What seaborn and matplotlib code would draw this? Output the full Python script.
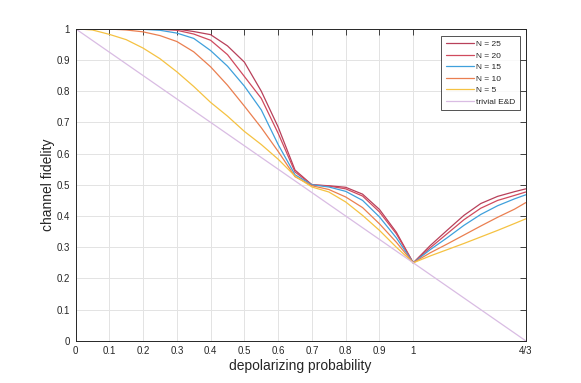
import numpy as np
import pandas as pd
import seaborn as sns
import matplotlib
matplotlib.use('Agg')
import matplotlib.pyplot as plt

# depolarizing probability grid (0:0.05:1.3 plus 4/3)
p_vals = [0, 0.05, 0.1, 0.15, 0.2, 0.25, 0.3, 0.35, 0.4, 0.45, 0.5, 0.55, 0.6, 0.65,
          0.7, 0.75, 0.8, 0.85, 0.9, 0.95, 1.0, 1.05, 1.1, 1.15, 1.2, 1.25, 1.3, 4 / 3]

fid_n25 = [1, 1, 1, 1, 1, 0.9995, 0.999, 0.991, 0.981, 0.945, 0.893, 0.80, 0.685, 0.547,
           0.5, 0.497, 0.492, 0.47, 0.421, 0.348, 0.25, 0.305, 0.354, 0.402, 0.44, 0.463, 0.478, 0.487]
fid_n20 = [1, 1, 1, 1, 0.999, 0.998, 0.995, 0.983, 0.963, 0.917, 0.847, 0.777, 0.665, 0.541,
           0.5, 0.496, 0.487, 0.464, 0.413, 0.343, 0.25, 0.298, 0.343, 0.388, 0.425, 0.45, 0.466, 0.477]
fid_n15 = [1, 1, 1, 0.999, 0.998, 0.995, 0.986, 0.969, 0.93, 0.88, 0.816, 0.74, 0.629, 0.532,
           0.5, 0.493, 0.479, 0.45, 0.397, 0.33, 0.25, 0.292, 0.33, 0.37, 0.405, 0.433, 0.455, 0.468]
fid_n10 = [1, 1, 0.999, 0.996, 0.99, 0.978, 0.959, 0.926, 0.878, 0.819, 0.752, 0.683, 0.607, 0.526,
           0.497, 0.485, 0.461, 0.427, 0.375, 0.316, 0.25, 0.282, 0.31, 0.339, 0.368, 0.396, 0.422, 0.443]
fid_n5 = [1, 0.996, 0.982, 0.965, 0.938, 0.904, 0.862, 0.815, 0.764, 0.72, 0.671, 0.629, 0.582, 0.528,
          0.493, 0.477, 0.445, 0.402, 0.354, 0.30, 0.25, 0.272, 0.292, 0.312, 0.333, 0.354, 0.376, 0.391]

trivial_p = [0, 1, 4 / 3]
trivial_fid = [1, 0.25, 0]

series_names = ['N = 25', 'N = 20', 'N = 15', 'N = 10', 'N = 5']
series_vals = [fid_n25, fid_n20, fid_n15, fid_n10, fid_n5]
colors = ['#b8405a', '#d04a5e', '#3fa0dc', '#ea7f50', '#f5c242']

x_ticks = [0, 0.1, 0.2, 0.3, 0.4, 0.5, 0.6, 0.7, 0.8, 0.9, 1, 4 / 3]
x_ticklabels = ['0', '0.1', '0.2', '0.3', '0.4', '0.5', '0.6', '0.7', '0.8', '0.9', '1', '4/3']
y_ticks = [0, 0.1, 0.2, 0.3, 0.4, 0.5, 0.6, 0.7, 0.8, 0.9, 1]
y_ticklabels = ['0', '0.1', '0.2', '0.3', '0.4', '0.5', '0.6', '0.7', '0.8', '0.9', '1']

sns.set_style('white')
plt.rcParams['font.family'] = ['Liberation Sans', 'DejaVu Sans']

fig = plt.figure(figsize=(5.81, 3.83), dpi=100)
ax = fig.add_axes([0.13, 0.11, 0.775, 0.815])

for name, vals, col in zip(series_names, series_vals, colors):
    df = pd.DataFrame({'p': p_vals, 'F': vals})
    sns.lineplot(data=df, x='p', y='F', color=col, linewidth=0.9, label=name, ax=ax,
                 estimator=None, sort=False)
df_t = pd.DataFrame({'p': trivial_p, 'F': trivial_fid})
sns.lineplot(data=df_t, x='p', y='F', color='#d9bce3', linewidth=0.9, label='trivial E&D', ax=ax,
             estimator=None, sort=False)

ax.set_xlim(0, 4 / 3)
ax.set_ylim(0, 1)
ax.set_xticks(x_ticks)
ax.set_xticklabels(x_ticklabels)
ax.set_yticks(y_ticks)
ax.set_yticklabels(y_ticklabels)
ax.grid(True, color='#e3e3e3', linewidth=0.7)
ax.set_axisbelow(True)
for s in ax.spines.values():
    s.set_color('#262626')
    s.set_linewidth(0.7)
ax.tick_params(direction='in', length=4, width=0.6, colors='#262626', labelsize=7,
               top=True, right=True, pad=4)
ax.set_xlabel('depolarizing probability', fontsize=10, color='#262626', labelpad=2)
ax.set_ylabel('channel fidelity', fontsize=10, color='#262626', labelpad=1)

leg = ax.legend(loc='upper right', fontsize=6, frameon=True, fancybox=False,
                handlelength=3.4, handletextpad=0.3, borderpad=0.5, labelspacing=0.45,
                bbox_to_anchor=(0.996, 0.99))
leg.get_frame().set_edgecolor('#262626')
leg.get_frame().set_linewidth(0.7)

plt.savefig('out.png', dpi=100)
